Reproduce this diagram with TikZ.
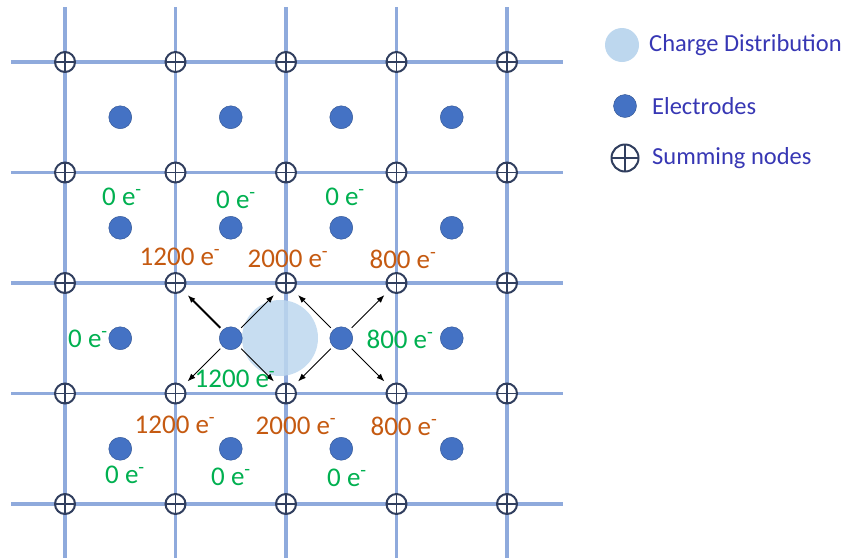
\documentclass[tikz,border=0pt]{standalone}
\usepackage{fontspec}
\setmainfont{Carlito}
\usetikzlibrary{arrows.meta}

\begin{document}
\begin{tikzpicture}[x=1pt,y=-1pt,
  gridline/.style={draw=gridblue, line width=3.5pt},
  sumnode/.style={circle, draw=sumnavy, line width=2pt, fill=white,
    minimum size=20pt, inner sep=0pt,
    path picture={\draw[sumnavy, line width=1.7pt]
      (path picture bounding box.north) -- (path picture bounding box.south)
      (path picture bounding box.west) -- (path picture bounding box.east);}},
  electrode/.style={circle, fill=elecblue, draw=elecedge, line width=0.4pt,
    minimum size=23pt, inner sep=0pt},
  cloud/.style={circle, fill=cloudblue, inner sep=0pt},
  flow/.style={-{Latex[length=8pt,width=6pt]}, black, line width=1pt,
    shorten <=3pt, shorten >=6pt},
  greenlabel/.style={text=chargegreen, anchor=base, inner sep=0pt,
    font=\fontsize{27}{31}\selectfont},
  orangelabel/.style={text=chargeorange, anchor=base, inner sep=0pt,
    font=\fontsize{27}{31}\selectfont},
  legendtext/.style={text=legendblue, anchor=west, inner sep=0pt,
    font=\fontsize{24.5}{29}\selectfont}
]
\definecolor{gridblue}{RGB}{143,170,220}
\definecolor{sumnavy}{RGB}{48,62,94}
\definecolor{elecblue}{RGB}{68,114,196}
\definecolor{elecedge}{RGB}{47,82,143}
\definecolor{cloudblue}{RGB}{189,215,238}
\definecolor{chargegreen}{RGB}{0,176,80}
\definecolor{chargeorange}{RGB}{197,90,17}
\definecolor{legendblue}{RGB}{55,55,180}

\useasboundingbox (0,0) rectangle (843,558);

% ======================= GITTER =======================
\foreach \c in {0,...,4}
  \draw[gridline] ({65+110.5*\c},7) -- ({65+110.5*\c},558);
\foreach \r in {0,...,4}
  \draw[gridline] (11,{62+110.5*\r}) -- (563,{62+110.5*\r});

% Ladungswolke
\node[cloud, minimum size=76pt, opacity=0.85] (cloud) at (280,338) {};

% Summenknoten an den Kreuzungen
\foreach \c in {0,...,4}
  \foreach \r in {0,...,4}
    \node[sumnode] (s-\c-\r) at ({65+110.5*\c},{62+110.5*\r}) {};

% Elektroden in den Zellmitten
\foreach \c in {1,...,4}
  \foreach \r in {1,...,4}
    \node[electrode] (e-\c-\r) at ({65+110.5*(\c-0.5)},{62+110.5*(\r-0.5)}) {};

% ======================= PFEILE =======================
\draw[flow, line width=1.8pt] (e-2-3) -- (s-1-2);
\draw[flow] (e-2-3) -- (s-2-2);
\draw[flow] (e-2-3) -- (s-1-3);
\draw[flow] (e-2-3) -- (s-2-3);
\draw[flow] (e-3-3) -- (s-2-2);
\draw[flow] (e-3-3) -- (s-3-2);
\draw[flow] (e-3-3) -- (s-2-3);
\draw[flow] (e-3-3) -- (s-3-3);

% ======================= LADUNGEN =======================
\node[greenlabel] (q-1-2) at (122,205) {0 e\textsuperscript{-}};
\node[greenlabel] (q-2-2) at (236,208) {0 e\textsuperscript{-}};
\node[greenlabel] (q-3-2) at (345,205) {0 e\textsuperscript{-}};
\node[greenlabel] (q-1-3) at (88,347) {0 e\textsuperscript{-}};
\node[greenlabel] (q-2-3) at (235,387) {1200 e\textsuperscript{-}};
\node[greenlabel] (q-3-3) at (400,348) {800 e\textsuperscript{-}};
\node[greenlabel] (q-1-4) at (125,483) {0 e\textsuperscript{-}};
\node[greenlabel] (q-2-4) at (231,485) {0 e\textsuperscript{-}};
\node[greenlabel] (q-3-4) at (347,486) {0 e\textsuperscript{-}};

\node[orangelabel] (p-1-2) at (180,265) {1200 e\textsuperscript{-}};
\node[orangelabel] (p-2-2) at (288,267) {2000 e\textsuperscript{-}};
\node[orangelabel] (p-3-2) at (403,268) {800 e\textsuperscript{-}};
\node[orangelabel] (p-1-3) at (175,433) {1200 e\textsuperscript{-}};
\node[orangelabel] (p-2-3) at (296,434) {2000 e\textsuperscript{-}};
\node[orangelabel] (p-3-3) at (404,435) {800 e\textsuperscript{-}};

% ======================= LEGENDE =======================
\node[cloud, minimum size=34pt] (leg-cloud) at (622,45) {};
\node[legendtext] (leg-cloud-txt) at (649,45) {Charge Distribution};
\node[electrode] (leg-elec) at (625,106) {};
\node[legendtext] (leg-elec-txt) at (652,106) {Electrodes};
\node[sumnode, minimum size=27pt] (leg-sum) at (625,158) {};
\node[legendtext] (leg-sum-txt) at (652,158) {Summing nodes};

\end{tikzpicture}
\end{document}
